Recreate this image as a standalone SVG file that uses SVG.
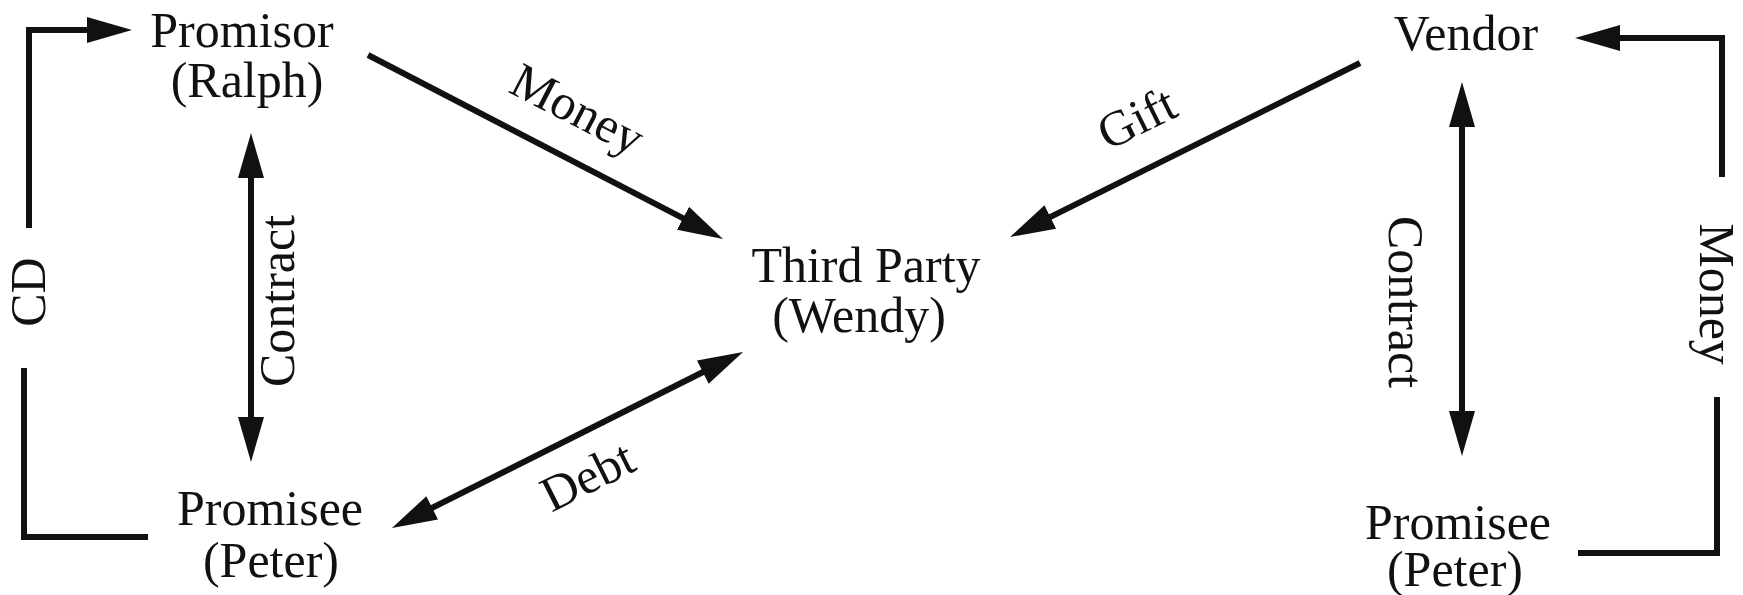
<svg xmlns="http://www.w3.org/2000/svg" width="1743" height="595" viewBox="0 0 1743 595">
  <style>
    .t { font-family: "Liberation Serif", "Times New Roman", serif; font-size: 50px; fill: #111; }
    .c { fill: none; stroke: #111; stroke-width: 6; stroke-linejoin: miter; stroke-linecap: butt; }
  </style>
  <defs>
    <marker id="ah" markerUnits="userSpaceOnUse" markerWidth="50" markerHeight="30" refX="2" refY="15" orient="auto-start-reverse">
      <path d="M0,2 L45,15 L0,28 Z" fill="#111"/>
    </marker>
  </defs>
  <rect width="1743" height="595" fill="#fff"/>

  <g id="connectors">
    <!-- CD bracket -->
    <path class="c" d="M29,228 V30 H89" marker-end="url(#ah)"/>
    <path class="c" d="M24,368 V537 H148"/>
    <text class="t" text-anchor="middle" transform="translate(45,292) rotate(-90)">CD</text>
    <!-- Left contract -->
    <path class="c" d="M251,176 V419" marker-start="url(#ah)" marker-end="url(#ah)"/>
    <text class="t" text-anchor="middle" transform="translate(294,301) rotate(-90)">Contract</text>
    <!-- Money diagonal -->
    <path class="c" d="M368,55 L684.8,219.2" marker-end="url(#ah)"/>
    <text class="t" text-anchor="middle" transform="translate(570,124) rotate(27.4)">Money</text>
    <!-- Debt -->
    <path class="c" d="M430.4,508.7 L704.6,371.3" marker-start="url(#ah)" marker-end="url(#ah)"/>
    <text class="t" text-anchor="middle" transform="translate(595,491) rotate(-26.6)">Debt</text>
    <!-- Gift -->
    <path class="c" d="M1360,63 L1048.5,217.9" marker-end="url(#ah)"/>
    <text class="t" text-anchor="middle" transform="translate(1144,133) rotate(-26.4)">Gift</text>
    <!-- Right contract -->
    <path class="c" d="M1462,125 V413" marker-start="url(#ah)" marker-end="url(#ah)"/>
    <text class="t" text-anchor="middle" transform="translate(1389,302) rotate(90)">Contract</text>
    <!-- Money bracket -->
    <path class="c" d="M1722,177 V38 H1618" marker-end="url(#ah)"/>
    <path class="c" d="M1717,397 V553 H1578"/>
    <text class="t" text-anchor="middle" transform="translate(1700,294) rotate(90)">Money</text>
  </g>

  <g id="promisor">
    <text class="t" text-anchor="middle"><tspan x="242" y="47">Promisor</tspan><tspan x="247" y="97">(Ralph)</tspan></text>
  </g>
  <g id="promisee-left">
    <text class="t" text-anchor="middle"><tspan x="270" y="525">Promisee</tspan><tspan x="271" y="577">(Peter)</tspan></text>
  </g>
  <g id="third-party">
    <text class="t" text-anchor="middle"><tspan x="866" y="282">Third Party</tspan><tspan x="859" y="332">(Wendy)</tspan></text>
  </g>
  <g id="vendor">
    <text class="t" text-anchor="middle" x="1466" y="50">Vendor</text>
  </g>
  <g id="promisee-right">
    <text class="t" text-anchor="middle"><tspan x="1458" y="539">Promisee</tspan><tspan x="1455" y="586">(Peter)</tspan></text>
  </g>
</svg>
